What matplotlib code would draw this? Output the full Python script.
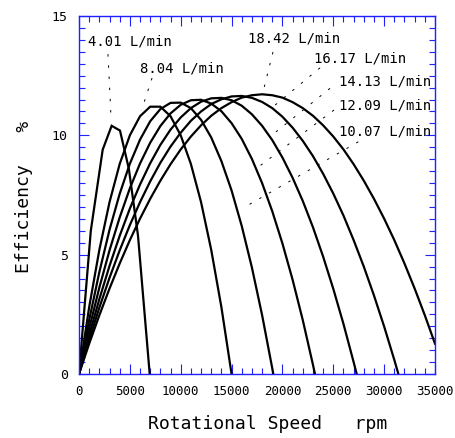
import matplotlib
matplotlib.use("Agg")
import matplotlib.pyplot as plt
from matplotlib.ticker import MultipleLocator

# efficiency curves (rpm, %)
rpm_401 = [0, 1160, 2330, 3210, 4030, 4900, 5800, 6950]
eff_401 = [0, 6.0, 9.4, 10.4, 10.2, 8.6, 5.8, 0]

rpm_804 = [0, 1000, 2000, 3000, 4000, 5000, 6000, 7000, 8000, 9000, 10000,
           11000, 12000, 13000, 14000, 15000]
eff_804 = [0, 2.80, 5.20, 7.20, 8.80, 10.00, 10.80, 11.20, 11.20, 10.80, 10.00,
           8.80, 7.20, 5.20, 2.80, 0]

rpm_1007 = [0, 1000, 2000, 3000, 4000, 5000, 6000, 7000, 8000, 9000, 10000,
            11000, 12000, 13000, 14000, 15000, 16000, 17000, 18000, 19000, 19100]
eff_1007 = [0, 2.26, 4.27, 6.04, 7.55, 8.81, 9.82, 10.59, 11.10, 11.36, 11.37,
            11.14, 10.65, 9.91, 8.92, 7.69, 6.20, 4.46, 2.47, 0.24, 0]

rpm_1209 = [0, 1000, 2000, 3000, 4000, 5000, 6000, 7000, 8000, 9000, 10000,
            11000, 12000, 13000, 14000, 15000, 16000, 17000, 18000, 19000, 20000,
            21000, 22000, 23000, 23200]
eff_1209 = [0, 1.90, 3.62, 5.18, 6.56, 7.78, 8.82, 9.69, 10.39, 10.92, 11.28,
            11.47, 11.49, 11.33, 11.01, 10.51, 9.85, 9.01, 8.00, 6.82, 5.47,
            3.95, 2.26, 0.39, 0]

rpm_1413 = [0, 1000, 2000, 3000, 4000, 5000, 6000, 7000, 8000, 9000, 10000,
            11000, 12000, 13000, 14000, 15000, 16000, 17000, 18000, 19000, 20000,
            21000, 22000, 23000, 24000, 25000, 26000, 27000, 27300]
eff_1413 = [0, 1.63, 3.14, 4.53, 5.79, 6.93, 7.94, 8.83, 9.60, 10.24, 10.75,
            11.14, 11.41, 11.55, 11.57, 11.47, 11.24, 10.88, 10.40, 9.80, 9.07,
            8.22, 7.25, 6.15, 4.92, 3.57, 2.10, 0.50, 0]

rpm_1617 = [0, 1000, 2000, 3000, 4000, 5000, 6000, 7000, 8000, 9000, 10000,
            11000, 12000, 13000, 14000, 15000, 16000, 17000, 18000, 19000, 20000,
            21000, 22000, 23000, 24000, 25000, 26000, 27000, 28000, 29000, 30000,
            31000, 31400]
eff_1617 = [0, 1.44, 2.78, 4.03, 5.18, 6.24, 7.20, 8.07, 8.85, 9.53, 10.11,
            10.61, 11.00, 11.31, 11.51, 11.63, 11.65, 11.57, 11.40, 11.14, 10.78,
            10.32, 9.77, 9.13, 8.39, 7.56, 6.64, 5.61, 4.50, 3.29, 1.99,
            0.59, 0]

rpm_1842 = [0, 1000, 2000, 3000, 4000, 5000, 6000, 7000, 8000, 9000, 10000,
            11000, 12000, 13000, 14000, 15000, 16000, 17000, 18000, 19000, 20000,
            21000, 22000, 23000, 24000, 25000, 26000, 27000, 28000, 29000, 30000,
            31000, 32000, 33000, 34000, 35000]
eff_1842 = [0, 1.27, 2.46, 3.58, 4.63, 5.61, 6.51, 7.34, 8.10, 8.79, 9.41,
            9.95, 10.42, 10.82, 11.14, 11.39, 11.58, 11.68, 11.72, 11.68, 11.58,
            11.39, 11.14, 10.82, 10.42, 9.95, 9.41, 8.79, 8.10, 7.34, 6.51,
            5.61, 4.63, 3.58, 2.46, 1.27]

curves = [(rpm_401, eff_401), (rpm_804, eff_804), (rpm_1007, eff_1007),
          (rpm_1209, eff_1209), (rpm_1413, eff_1413), (rpm_1617, eff_1617),
          (rpm_1842, eff_1842)]

# flow labels: text, text position, leader start, leader end (data units)
labels = ["4.01 L/min", "8.04 L/min", "18.42 L/min", "16.17 L/min",
          "14.13 L/min", "12.09 L/min", "10.07 L/min"]
label_xy = [(900, 13.95), (6000, 12.78), (16600, 14.06), (23150, 13.2),
            (25560, 12.25), (25560, 11.23), (25560, 10.18)]
leader_from = [(2850, 13.4), (7180, 12.4), (19070, 13.49), (23700, 12.83),
               (24680, 11.97), (25070, 11.06), (27460, 9.73)]
leader_to = [(3150, 10.75), (6150, 11.06), (18090, 11.81), (19170, 11.23),
             (18950, 10.0), (17470, 8.62), (16320, 7.0)]

mono = "DejaVu Sans Mono"
blue = "#2020ff"

fig = plt.figure(figsize=(4.56, 4.38), dpi=100)
ax = fig.add_axes([79 / 456, 64 / 438, 356 / 456, 358 / 438])

for x, y in curves:
    ax.plot(x, y, color="black", linewidth=1.6, solid_joinstyle="miter")

for t, (tx, ty), (x0, y0), (x1, y1) in zip(labels, label_xy, leader_from, leader_to):
    ax.plot([x0, x1], [y0, y1], color="black", linewidth=0.7,
            linestyle=(0, (2.5, 9)))
    ax.text(tx, ty, t, family=mono, fontsize=10, ha="left", va="center")

ax.set_xlim(0, 35000)
ax.set_ylim(0, 15)
ax.xaxis.set_major_locator(MultipleLocator(5000))
ax.xaxis.set_minor_locator(MultipleLocator(1000))
ax.yaxis.set_major_locator(MultipleLocator(5))
ax.yaxis.set_minor_locator(MultipleLocator(0.5))

for s in ax.spines.values():
    s.set_color(blue)
    s.set_linewidth(1.0)
ax.tick_params(which="both", direction="in", top=True, right=True,
               color=blue, width=0.8)
ax.tick_params(which="major", length=7.5)
ax.tick_params(which="minor", length=4)
ax.tick_params(axis="x", which="major", pad=8, labelsize=9)
ax.tick_params(axis="y", which="major", pad=8, labelsize=9.5)
for lab in ax.get_xticklabels() + ax.get_yticklabels():
    lab.set_family(mono)

fig.text(267.5 / 456, (438 - 424) / 438, "Rotational Speed   rpm",
         family=mono, fontsize=13, ha="center", va="center")
fig.text(24 / 456, (438 - 197) / 438, "Efficiency   %", rotation=90,
         family=mono, fontsize=13, ha="center", va="center")

fig.savefig("out.png", dpi=100)
